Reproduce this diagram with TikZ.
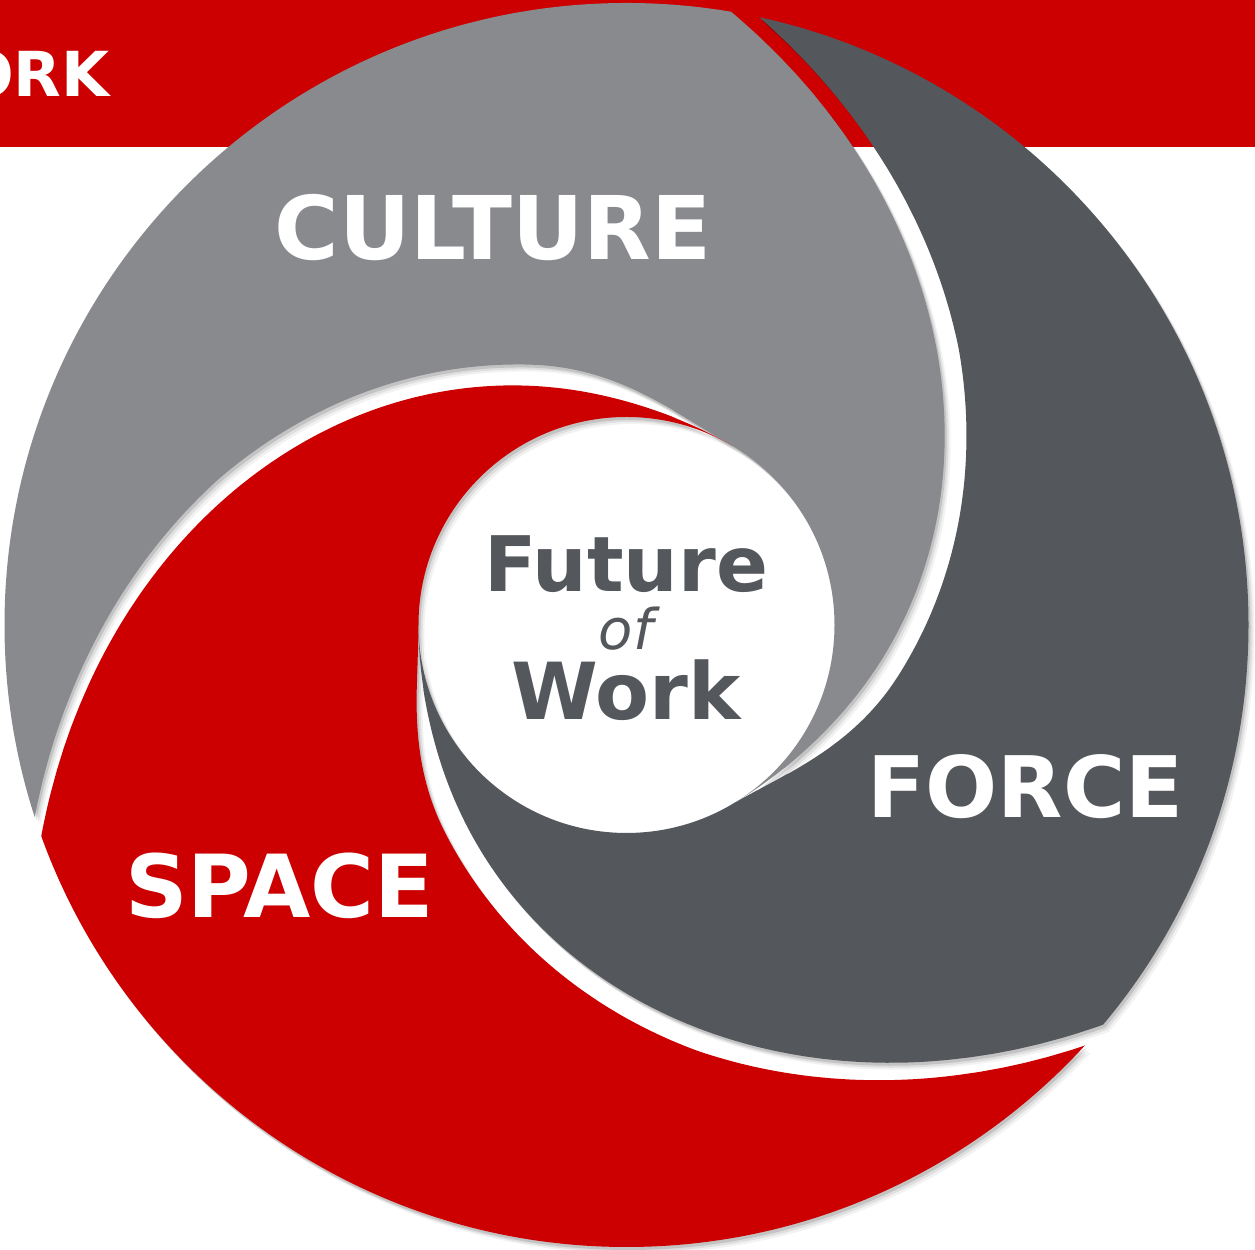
\documentclass[tikz,border=0pt]{standalone}
\usepackage{fontspec}
\setmainfont{DejaVu Sans}
\definecolor{bannerred}{HTML}{CC0000}
\definecolor{lightgrey}{HTML}{898A8E}
\definecolor{darkgrey}{HTML}{54575C}
\tikzset{
  declare function={
    uu(\t)=max(1-\t/140,0.0001);
    rs(\t)=208+412*uu(\t)^2.15;
    gp(\t)=(12+12*cos(3.6*min(max(\t-90,0),50)))*(0.6+0.4*min(1,max(\t,0)/40));},
  arm/.style={insert path={
    plot[variable=\t,domain=-20:140,samples=160,smooth] ({#1-\t}:{rs(\t)})
    -- ({#1-140}:150) arc[start angle={#1-140}, end angle={#1-20}, radius=150]
    -- plot[variable=\t,domain=140:-20,samples=160,smooth] ({#1+120-\t}:{rs(\t)+gp(\t)})
    -- ({#1+140}:820) arc[start angle={#1+140}, end angle={#1+20}, radius=820]
    -- cycle}},
  annulus/.style={insert path={(622,0) arc[start angle=0,end angle=360,radius=622]
    -- (208,0) arc[start angle=360,end angle=0,radius=208] -- cycle}},
  biglabel/.style={text=white, inner sep=0pt, anchor=base,
    font=\bfseries\fontsize{50}{60}\selectfont},
  centerlabel/.style={text=darkgrey, inner sep=0pt, anchor=base},
}
\begin{document}
\begin{tikzpicture}[x=0.02cm,y=0.02cm]
\useasboundingbox (0,0) rectangle (1255,1250);
\fill[white] (0,0) rectangle (1255,1250);
\fill[bannerred] (0,1103) rectangle (1255,1250);
\node[text=white, inner sep=0pt, anchor=base east,
  font=\bfseries\fontsize{35.3}{40}\selectfont] (bannertext) at (110,1153) {ORK};
% shadows
\foreach \sx/\sy/\op in {6/-7/0.05, 4/-5/0.08, 2/-3/0.12}{
  \begin{scope}[shift={(626.5+\sx,625+\sy)}]
    \clip[annulus];
    \fill[black, opacity=\op, arm=80];
    \fill[black, opacity=\op, arm=199.5];
    \fill[black, opacity=\op, arm=319.7];
  \end{scope}
}
% arms
\begin{scope}[shift={(626.5,625)}]
  \clip[annulus];
  \fill[lightgrey, arm=80];
  \fill[bannerred, arm=199.5];
  \fill[darkgrey, arm=319.7];
\end{scope}
% labels
\node[biglabel] (culture) at (493,990) {CULTURE};
\node[biglabel, font=\bfseries\fontsize{48.3}{58}\selectfont] (force) at (1025.5,432) {FORCE};
\node[biglabel, font=\bfseries\fontsize{49.5}{58}\selectfont] (space) at (279.5,332) {SPACE};
\node[centerlabel, font=\bfseries\fontsize{43.6}{52}\selectfont] (future) at (626,658) {Future};
\node[centerlabel, font=\itshape\fontsize{31.9}{36}\selectfont] (of) at (626,600) {of};
\node[centerlabel, font=\bfseries\fontsize{44.8}{54}\selectfont] (work) at (626,530) {Work};
\end{tikzpicture}
\end{document}
